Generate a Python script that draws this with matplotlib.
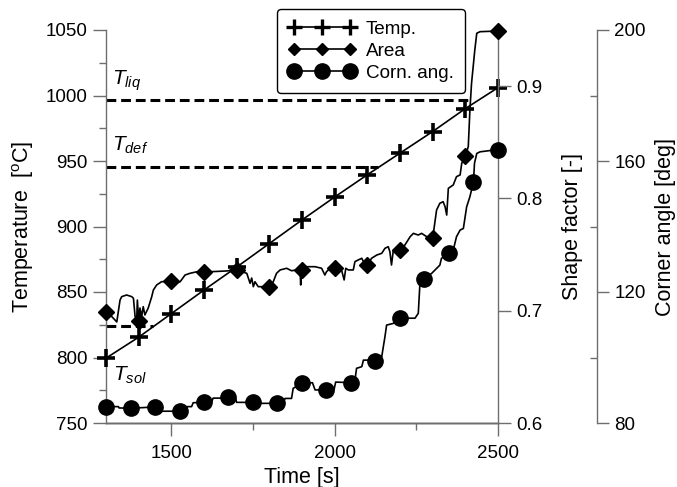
import numpy as np
import matplotlib
matplotlib.use("Agg")
import matplotlib.pyplot as plt
from matplotlib.lines import Line2D
from matplotlib.ticker import MultipleLocator

plt.rcParams['font.family'] = ['Liberation Sans', 'DejaVu Sans']
plt.rcParams['mathtext.fontset'] = 'custom'
plt.rcParams['mathtext.rm'] = 'Liberation Sans'
plt.rcParams['mathtext.it'] = 'Liberation Sans:italic'

# ---------------- data ----------------
temp_t = [1300, 1400, 1500, 1600, 1700, 1800, 1900, 2000, 2100, 2200, 2300, 2400, 2500]
temp_v = [799.5, 815.5, 833.5, 851.5, 869, 887, 905, 922.5, 939.5, 956, 972.5, 990, 1006]

area_t = [1300, 1317, 1333, 1343, 1348, 1363, 1379, 1384, 1389, 1394, 1396, 1400, 1404, 1409,
          1414, 1419, 1429, 1440, 1445, 1455, 1470, 1500, 1511, 1527, 1542, 1557, 1578, 1600,
          1618, 1669, 1700, 1731, 1741, 1746, 1751, 1756, 1766, 1781, 1800, 1812, 1822, 1833,
          1853, 1868, 1884, 1894, 1896, 1898, 1900, 1914, 1940, 1960, 1970, 1975, 1986, 2000,
          2016, 2021, 2029, 2034, 2042, 2057, 2062, 2072, 2083, 2088, 2100, 2113, 2129, 2144,
          2154, 2164, 2169, 2174, 2179, 2185, 2200, 2215, 2231, 2241, 2256, 2266, 2282, 2300,
          2312, 2322, 2332, 2338, 2343, 2348, 2363, 2373, 2384, 2389, 2400, 2409, 2414, 2419,
          2429, 2435, 2445, 2500]
area_v = [0.699, 0.695, 0.690, 0.7095, 0.7125, 0.714, 0.7125, 0.711, 0.695, 0.692, 0.7095, 0.691,
          0.7024, 0.6947, 0.7036, 0.6962, 0.7022, 0.7125, 0.7184, 0.7229, 0.7258, 0.7265, 0.7244,
          0.7258, 0.7318, 0.7333, 0.7347, 0.7342, 0.7347, 0.7354, 0.7363, 0.7333, 0.7244, 0.7291,
          0.7214, 0.7258, 0.7214, 0.7214, 0.7214, 0.7258, 0.7333, 0.7363, 0.7378, 0.7356, 0.7363,
          0.7363, 0.7229, 0.7363, 0.7363, 0.7392, 0.7392, 0.7378, 0.7318, 0.7347, 0.7378, 0.7378,
          0.7378, 0.7363, 0.7274, 0.7378, 0.7363, 0.7363, 0.7437, 0.7452, 0.7467, 0.7437, 0.7407,
          0.7467, 0.7496, 0.7511, 0.7556, 0.7570, 0.7526, 0.7407, 0.7526, 0.7541, 0.7541, 0.7585,
          0.7659, 0.7689, 0.7674, 0.7689, 0.7659, 0.7645, 0.7897, 0.7957, 0.7971, 0.7926, 0.7852,
          0.8090, 0.8120, 0.8194, 0.8209, 0.8313, 0.8378, 0.8461, 0.8788, 0.9025, 0.9322, 0.9471,
          0.9485, 0.9491]
area_marker_t = [1300, 1400, 1500, 1600, 1700, 1800, 1900, 2000, 2100, 2200, 2300, 2400, 2500]

ang_t = [1300, 1338, 1340, 1375, 1450, 1465, 1470, 1525, 1546, 1549, 1562, 1567, 1600, 1623,
         1628, 1654, 1675, 1695, 1700, 1750, 1766, 1825, 1843, 1848, 1868, 1873, 1900, 1932,
         1940, 1975, 1998, 2003, 2050, 2062, 2067, 2083, 2088, 2108, 2125, 2144, 2154, 2159,
         2179, 2200, 2246, 2256, 2261, 2275, 2297, 2307, 2322, 2327, 2350, 2363, 2373, 2384,
         2394, 2404, 2414, 2425, 2428, 2435, 2445, 2500]
ang_v = [85.0, 85.0, 84.6, 84.5, 84.9, 85.0, 83.6, 83.6, 83.6, 85.0, 85.0, 86.2, 86.3, 86.3,
         87.6, 87.6, 88.0, 88.0, 86.3, 86.3, 86.0, 86.0, 86.0, 87.5, 87.5, 90.6, 92.1, 92.3,
         90.1, 90.1, 90.1, 92.5, 92.3, 93.0, 96.7, 97.2, 99.2, 99.2, 99.0, 100.2, 106.4, 109.9,
         110.4, 112.0, 112.0, 113.5, 122.6, 124.0, 125.7, 126.7, 128.2, 130.3, 131.8, 132.8,
         136.9, 138.9, 139.4, 146.0, 149.1, 153.7, 159.3, 162.3, 162.8, 163.5]
ang_marker_t = [1300, 1375, 1450, 1525, 1600, 1675, 1750, 1825, 1900, 1975, 2050, 2125,
                2200, 2275, 2350, 2425, 2500]

crit_names = [r'$T_{sol}$', r'$T_{def}$', r'$T_{liq}$']
crit_temp = [824, 945.5, 996.5]
crit_end_t = [1445, 2133, 2415]
crit_label_t = [1322, 1318, 1318]
crit_label_y = [782, 958, 1008]

# ---------------- figure ----------------
W, H = 677, 487
fig = plt.figure(figsize=(W / 100, H / 100), dpi=100)
L, R, B, T = 106, 498, 423, 30
ax = fig.add_axes([L / W, 1 - B / H, (R - L) / W, (B - T) / H])
ax2 = ax.twinx()
ax3 = ax.twinx()
ax3.spines['right'].set_position(('axes', 1 + 99 / (R - L)))

spine_c = '#6e6e6e'
tick_fs = 13.5
lab_fs = 15.5
lw = 1.2

for a in (ax, ax2, ax3):
    a.set_xlim(1300, 2500)
    a.spines['top'].set_visible(False)
    for s in a.spines.values():
        s.set_color(spine_c)
        s.set_linewidth(1.0)
    a.patch.set_visible(False)

ax2.spines['left'].set_visible(False)
ax3.spines['left'].set_visible(False)
ax.spines['right'].set_visible(False)

# temperature axis
ax.set_ylim(750, 1050)
ax.yaxis.set_major_locator(MultipleLocator(50))
ax.yaxis.set_minor_locator(MultipleLocator(25))
ax.xaxis.set_major_locator(MultipleLocator(500))
ax.xaxis.set_minor_locator(MultipleLocator(250))
ax.tick_params(which='major', length=9.5, width=1, color=spine_c, labelsize=tick_fs, pad=4)
ax.tick_params(axis='x', which='major', pad=6)
ax.tick_params(which='minor', length=5, width=1, color=spine_c)

# shape factor axis
ax2.set_ylim(0.6, 0.95)
ax2.set_yticks([0.6, 0.7, 0.8, 0.9])
ax2.set_yticklabels(['0.6', '0.7', '0.8', '0.9'])
ax2.tick_params(axis='y', which='major', length=9.5, width=1, color=spine_c, labelsize=tick_fs, pad=4)

# corner angle axis
ax3.set_ylim(80, 200)
ax3.yaxis.set_major_locator(MultipleLocator(40))
ax3.yaxis.set_minor_locator(MultipleLocator(20))
ax3.tick_params(axis='y', which='major', length=8.5, width=1, color=spine_c, labelsize=tick_fs, pad=4)
ax3.tick_params(axis='y', which='minor', length=5, width=1, color=spine_c, direction='in')

# labels
ax.set_xlabel('Time [s]', fontsize=lab_fs)
ax.xaxis.set_label_coords(0.5, -(467 - B) / (B - T))
ax.set_ylabel(r'Temperature  [$^{\rm o}$C]', fontsize=lab_fs)
ax.yaxis.set_label_coords((36 - L) / (R - L), 0.5)
ax2.set_ylabel('Shape factor [-]', fontsize=lab_fs)
ax2.yaxis.set_label_coords((562 - L) / (R - L), 0.5)
ax3.set_ylabel('Corner angle [deg]', fontsize=lab_fs)
ax3.yaxis.set_label_coords((655 - L) / (R - L), 0.5)

# critical temperature lines
for name, tv, te, lt, ly in zip(crit_names, crit_temp, crit_end_t, crit_label_t, crit_label_y):
    ax.plot([1300, te], [tv, tv], color='black', lw=2.2, dashes=(3.2, 1.6), zorder=2)
    ax.text(lt, ly, name, fontsize=15, va='baseline', ha='left')

# curves
temp_style = dict(color='black', lw=lw, marker='+', markersize=13, markeredgewidth=2.6)
area_style = dict(color='black', lw=lw, marker='D', markersize=8)
ang_style = dict(color='black', lw=lw, marker='o', markersize=11)

ax.plot(temp_t, temp_v, clip_on=False, zorder=3, **temp_style)

area_t_a = np.array(area_t)
area_idx = list(np.where(np.isin(area_t_a, area_marker_t))[0])
ax2.plot(area_t, area_v, markevery=area_idx, clip_on=False, zorder=3, **area_style)

ang_t_a = np.array(ang_t)
ang_idx = list(np.where(np.isin(ang_t_a, ang_marker_t))[0])
ax3.plot(ang_t, ang_v, markevery=ang_idx, clip_on=False, zorder=3, **ang_style)

leg_temp = dict(color='black', lw=lw, marker='+', markersize=11, markeredgewidth=2.4)
leg_area = dict(color='black', lw=lw, marker='D', markersize=6.5)
leg_ang = dict(color='black', lw=lw, marker='o', markersize=11)
handles = [Line2D([], [], **leg_temp), Line2D([], [], **leg_area), Line2D([], [], **leg_ang)]
leg = fig.legend(handles, ['Temp.', 'Area', 'Corn. ang.'], loc='upper left',
                 bbox_to_anchor=(277 / W, 1 - 9 / H), fontsize=13.6, numpoints=3,
                 handlelength=3.55, handletextpad=0.55, labelspacing=0.26, borderpad=0.6,
                 borderaxespad=0, fancybox=True, framealpha=1, edgecolor='black')
leg.get_frame().set_linewidth(1.0)

fig.savefig('out.png', dpi=100)
